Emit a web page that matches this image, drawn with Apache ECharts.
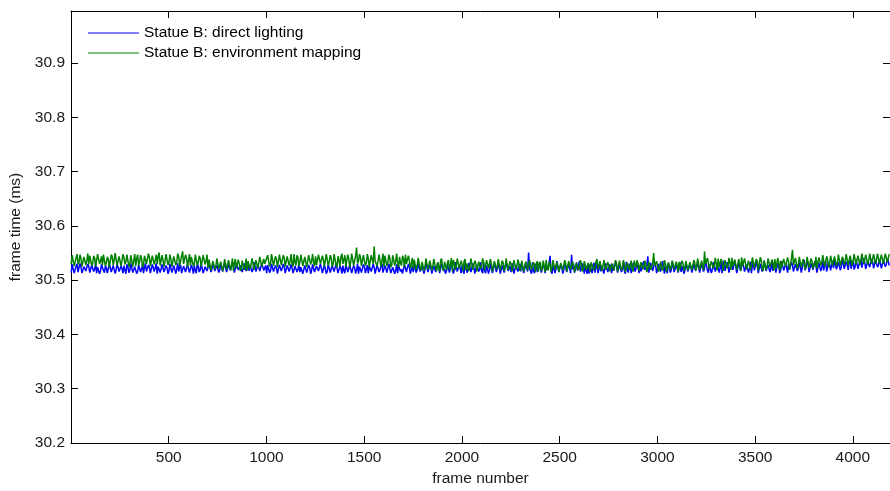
<!DOCTYPE html>
<html>
<head>
<meta charset="utf-8">
<script src="https://cdn.jsdelivr.net/npm/echarts@6/dist/echarts.min.js"></script>
<style>
  html, body { margin: 0; padding: 0; background: #ffffff; }
  #chart { width: 890px; height: 491px; }
</style>
</head>
<body>
<div id="chart"></div>
<script>
// Frame time per frame (ms), one sample every FRAME_STEP frames starting at frame 1
const FRAME_STEP = 5;
const FIRST_FRAME = 1;

const seriesNames = ['Statue B: direct lighting', 'Statue B: environment mapping'];

const xTicks = [500, 1000, 1500, 2000, 2500, 3000, 3500, 4000];
const yTicks = [30.2, 30.3, 30.4, 30.5, 30.6, 30.7, 30.8, 30.9];

const directLighting = [
  30.514,30.529,30.527,30.513,30.519,30.526,30.530,30.515,30.516,30.531,30.524,30.513,30.512,30.525,30.528,30.517,30.518,30.530,30.525,30.514,
  30.515,30.528,30.529,30.516,30.520,30.531,30.513,30.524,30.526,30.512,30.517,30.529,30.531,30.518,30.514,30.527,30.522,30.513,30.516,30.530,
  30.528,30.515,30.513,30.527,30.524,30.512,30.519,30.530,30.530,30.516,30.515,30.526,30.521,30.513,30.527,30.518,30.512,30.529,30.525,30.514,
  30.518,30.531,30.529,30.514,30.514,30.525,30.523,30.512,30.516,30.528,30.527,30.515,30.520,30.530,30.513,30.524,30.531,30.516,30.517,30.528,
  30.524,30.513,30.515,30.529,30.528,30.516,30.519,30.531,30.512,30.525,30.526,30.514,30.521,30.529,30.530,30.515,30.514,30.527,30.523,30.512,
  30.517,30.530,30.529,30.514,30.513,30.527,30.525,30.512,30.520,30.531,30.516,30.524,30.528,30.513,30.512,30.526,30.524,30.515,30.518,30.529,
  30.531,30.514,30.515,30.528,30.522,30.512,30.527,30.518,30.513,30.530,30.526,30.515,30.519,30.531,30.529,30.513,30.516,30.525,30.523,30.517,
  30.516,30.531,30.529,30.515,30.520,30.532,30.533,30.517,30.515,30.528,30.526,30.514,30.519,30.530,30.531,30.516,30.517,30.533,30.524,30.515,
  30.514,30.529,30.530,30.518,30.521,30.533,30.527,30.514,30.516,30.530,30.532,30.519,30.518,30.527,30.525,30.515,30.515,30.531,30.529,30.517,
  30.522,30.532,30.517,30.528,30.531,30.515,30.519,30.533,30.526,30.516,30.514,30.529,30.528,30.517,30.520,30.531,30.533,30.518,30.517,30.527,
  30.513,30.528,30.526,30.514,30.518,30.530,30.529,30.516,30.515,30.527,30.523,30.512,30.512,30.528,30.527,30.517,30.519,30.530,30.524,30.513,
  30.514,30.527,30.530,30.516,30.517,30.529,30.522,30.513,30.513,30.526,30.528,30.515,30.520,30.530,30.515,30.524,30.526,30.512,30.512,30.527,
  30.529,30.514,30.516,30.528,30.523,30.512,30.518,30.529,30.527,30.515,30.513,30.526,30.525,30.517,30.519,30.530,30.530,30.513,30.514,30.528,
  30.521,30.512,30.516,30.530,30.528,30.514,30.512,30.527,30.524,30.516,30.518,30.530,30.529,30.513,30.515,30.526,30.522,30.512,30.527,30.517,
  30.513,30.529,30.526,30.515,30.517,30.528,30.530,30.513,30.514,30.527,30.523,30.512,30.519,30.530,30.512,30.525,30.528,30.514,30.516,30.529,
  30.525,30.513,30.520,30.528,30.513,30.526,30.529,30.516,30.517,30.530,30.524,30.512,30.514,30.528,30.527,30.515,30.519,30.526,30.530,30.514,
  30.512,30.527,30.522,30.514,30.516,30.530,30.528,30.513,30.515,30.524,30.526,30.512,30.518,30.529,30.513,30.527,30.529,30.516,30.520,30.512,
  30.514,30.529,30.527,30.515,30.517,30.530,30.524,30.512,30.513,30.526,
  30.515,30.530,30.528,30.514,30.519,30.531,30.532,30.516,30.513,30.527,30.525,30.512,30.520,30.533,30.530,30.515,30.516,30.528,30.523,30.512,
  30.512,30.526,30.529,30.515,30.518,30.532,30.526,30.513,30.514,30.530,30.533,30.517,30.521,30.512,30.517,30.529,30.527,30.514,30.513,30.531,
  30.524,30.512,30.519,30.533,30.531,30.516,30.515,30.528,30.522,30.513,30.528,30.517,30.512,30.530,30.526,30.514,30.518,30.532,30.530,30.515,
  30.516,30.531,30.523,30.512,30.514,30.528,30.529,30.516,30.520,30.533,30.517,30.513,30.532,30.518,30.513,30.527,30.525,30.512,30.519,30.530,
  30.527,30.513,30.514,30.532,30.530,30.515,30.518,30.529,30.523,30.512,30.512,30.527,30.528,30.514,30.516,30.533,30.531,30.517,30.520,30.526,
  30.515,30.531,30.526,30.512,30.513,30.528,30.529,30.516,30.518,30.530,
  30.516,30.533,30.530,30.513,30.514,30.529,30.527,30.516,30.551,30.522,30.520,30.512,30.533,30.517,30.513,30.530,30.526,30.515,30.518,30.532,
  30.531,30.514,30.515,30.528,30.524,30.513,30.529,30.519,30.517,30.531,30.545,30.516,30.512,30.527,30.528,30.513,30.520,30.535,30.534,30.515,
  30.514,30.529,30.525,30.512,30.519,30.533,30.532,30.515,30.516,30.530,30.527,30.513,30.547,30.520,30.530,30.514,30.521,30.533,30.518,30.526,
  30.535,30.516,30.515,30.531,30.523,30.512,30.529,30.518,30.512,30.527,30.512,30.530,30.519,30.513,30.526,30.532,30.514,30.525,30.531,30.513,
  30.520,30.534,30.516,30.527,30.528,30.512,30.513,30.531,30.533,30.515,30.518,30.529,30.524,30.513,30.530,30.517,30.515,30.534,30.527,30.514,
  30.512,30.528,30.529,30.515,30.521,30.533,30.517,30.512,30.534,30.520,30.514,30.530,30.526,30.513,30.519,30.532,30.531,30.516,30.516,30.529,
  30.523,30.513,30.528,30.516,30.513,30.531,30.535,30.519,30.518,30.527,30.544,30.514,30.515,30.532,30.530,30.517,30.520,30.533,30.527,30.513,
  30.514,30.530,30.532,30.516,30.517,30.535,30.524,30.512,30.529,30.518,30.513,30.531,30.526,30.514,30.519,30.534,30.533,30.515,30.516,30.528,
  30.522,30.514,30.521,30.533,30.515,30.526,30.528,30.512,30.518,30.532,30.531,30.516,30.513,30.529,30.525,30.514,30.520,30.531,30.534,30.517,
  30.517,30.534,30.531,30.514,30.515,30.530,30.528,30.516,30.521,30.537,30.535,30.518,30.514,30.529,30.526,30.513,30.519,30.533,30.533,30.516,
  30.516,30.531,30.529,30.514,30.522,30.535,30.513,30.527,30.536,30.517,30.518,30.533,30.527,30.514,30.515,30.530,30.532,30.519,30.520,30.536,
  30.525,30.513,30.514,30.532,30.530,30.517,30.519,30.535,30.537,30.516,30.516,30.529,30.528,30.514,30.521,30.534,30.513,30.527,30.534,30.518,
  30.518,30.533,30.526,30.513,30.515,30.530,30.531,30.516,30.520,30.536,30.535,30.517,30.514,30.528,30.529,30.515,30.522,30.534,30.517,30.529,
  30.533,30.514,30.516,30.531,30.527,30.513,30.519,30.535,30.536,30.518,30.515,30.530,30.524,30.514,30.530,30.519,30.518,30.533,30.528,30.516,
  30.514,30.530,30.532,30.517,30.521,30.535,30.526,30.514,30.517,30.532,30.537,30.518,30.519,30.534,30.529,30.515,30.515,30.531,30.534,30.519,
  30.520,30.535,30.527,30.514,30.516,30.532,30.531,30.517,30.523,30.536,30.518,30.530,30.535,30.516,30.517,30.533,30.529,30.518,30.521,30.536,
  30.522,30.537,30.535,30.520,30.519,30.533,30.531,30.518,30.525,30.539,30.538,30.521,30.520,30.534,30.529,30.519,30.533,30.537,30.521,30.530,
  30.536,30.520,30.524,30.538,30.530,30.521,30.519,30.535,30.539,30.523,30.526,30.540,30.532,30.521,30.522,30.536,30.537,30.524,30.527,30.539,
  30.534,30.522,30.521,30.538,30.540,30.524,30.528,30.539,30.536,30.522,30.523,30.537,30.538,30.525,30.529,30.540,30.535,30.527
];

const environmentMapping = [
  30.530,30.546,30.544,30.526,30.527,30.541,30.548,30.529,30.533,30.547,30.540,30.525,30.525,30.543,30.546,30.528,30.536,30.549,30.529,30.545,
  30.547,30.527,30.531,30.545,30.541,30.525,30.526,30.548,30.545,30.530,30.535,30.544,30.528,30.547,30.549,30.526,30.532,30.543,30.538,30.524,
  30.525,30.547,30.543,30.528,30.537,30.550,30.553,30.527,30.530,30.544,30.546,30.526,30.527,30.548,30.541,30.529,30.534,30.547,30.548,30.525,
  30.529,30.546,30.544,30.525,30.536,30.548,30.526,30.540,30.547,30.527,30.533,30.546,30.540,30.524,30.528,30.545,30.545,30.530,30.531,30.549,
  30.542,30.526,30.525,30.545,30.548,30.529,30.537,30.547,30.530,30.544,30.551,30.527,30.527,30.546,30.543,30.525,30.535,30.548,30.546,30.528,
  30.532,30.547,30.539,30.525,30.526,30.544,30.547,30.528,30.534,30.549,30.544,30.526,30.528,30.545,30.553,30.530,30.531,30.547,30.541,30.524,
  30.536,30.548,30.527,30.543,30.545,30.526,30.530,30.547,30.548,30.527,30.533,30.545,30.540,30.525,30.526,30.546,30.544,30.529,30.535,30.547,
  30.522,30.538,30.536,30.518,30.519,30.535,30.533,30.520,30.526,30.540,30.540,30.521,30.518,30.534,30.531,30.517,30.524,30.539,30.537,30.520,
  30.520,30.537,30.534,30.518,30.527,30.540,30.517,30.531,30.539,30.522,30.523,30.538,30.530,30.517,30.521,30.536,30.535,30.519,30.525,30.540,
  30.518,30.535,30.538,30.521,30.528,30.540,30.532,30.519,30.520,30.537,30.536,30.522,30.524,30.543,30.541,30.525,30.522,30.539,30.530,30.527,
  30.528,30.546,30.543,30.525,30.531,30.548,30.547,30.527,30.526,30.544,30.539,30.524,30.534,30.547,30.545,30.528,30.529,30.546,30.541,30.525,
  30.524,30.544,30.546,30.527,30.535,30.548,30.530,30.525,30.548,30.533,30.527,30.546,30.542,30.526,30.533,30.547,30.545,30.526,30.528,30.543,
  30.540,30.524,30.525,30.546,30.547,30.529,30.536,30.548,30.531,30.526,30.544,30.528,30.527,30.547,30.548,30.530,30.532,30.545,30.538,30.525,
  30.526,30.548,30.545,30.527,30.534,30.546,30.541,30.525,30.529,30.548,30.547,30.528,30.524,30.544,30.537,30.526,30.543,30.549,30.530,30.527,
  30.546,30.525,30.528,30.547,30.539,30.524,30.533,30.549,30.548,30.527,30.526,30.545,30.560,30.531,30.535,30.548,30.542,30.526,30.529,30.546,
  30.545,30.527,30.531,30.548,30.540,30.524,30.527,30.546,30.547,30.530,30.562,30.535,30.534,30.526,30.529,30.547,30.544,30.525,30.536,30.549,
  30.525,30.545,30.548,30.526,30.532,30.547,30.541,30.524,30.528,30.546,30.546,30.527,30.535,30.549,30.530,30.524,30.543,30.531,30.527,30.545,
  30.539,30.524,30.547,30.530,30.531,30.545,30.536,30.522,30.529,30.541,
  30.521,30.538,30.535,30.519,30.527,30.541,30.539,30.522,30.518,30.534,30.531,30.517,30.524,30.540,30.538,30.520,30.520,30.536,30.533,30.518,
  30.526,30.539,30.540,30.521,30.517,30.533,30.530,30.516,30.536,30.540,30.523,30.518,30.534,30.537,30.519,30.532,30.537,30.520,30.528,30.541,
  30.516,30.537,30.532,30.519,30.525,30.540,30.539,30.522,30.521,30.536,30.529,30.517,30.535,30.539,30.518,30.531,30.533,30.517,30.526,30.540,
  30.540,30.519,30.522,30.536,30.531,30.516,30.517,30.534,30.536,30.521,30.527,30.540,30.533,30.518,30.520,30.537,30.538,30.522,30.524,30.539,
  30.529,30.516,30.516,30.535,30.534,30.520,30.526,30.539,30.541,30.518,30.519,30.536,30.532,30.517,30.523,30.540,30.537,30.519,30.521,30.535,
  30.530,30.516,30.518,30.537,30.535,30.520,30.525,30.538,30.532,30.517,
  30.522,30.536,30.533,30.516,30.517,30.534,30.530,30.518,30.525,30.537,30.536,30.519,30.519,30.533,30.528,30.515,30.531,30.535,30.516,30.530,
  30.534,30.517,30.521,30.536,30.527,30.515,30.537,30.522,30.518,30.534,30.529,30.516,30.524,30.537,30.535,30.519,30.520,30.533,30.531,30.516,
  30.515,30.532,30.533,30.518,30.526,30.537,30.530,30.516,30.519,30.535,30.536,30.520,30.523,30.534,30.528,30.515,30.517,30.532,30.534,30.518,
  30.525,30.537,30.531,30.516,30.520,30.535,30.537,30.519,30.516,30.532,30.529,30.515,30.533,30.536,30.522,30.518,30.527,30.534,30.539,30.520,
  30.518,30.535,30.532,30.517,30.524,30.537,30.536,30.519,30.521,30.533,30.528,30.516,30.515,30.531,30.534,30.518,30.526,30.537,30.530,30.516,
  30.519,30.536,30.535,30.518,30.523,30.537,30.529,30.515,30.517,30.532,30.533,30.519,30.527,30.536,30.520,30.516,30.536,30.530,30.524,30.537,
  30.531,30.517,30.516,30.533,30.534,30.520,30.525,30.536,30.529,30.515,30.521,30.534,30.537,30.519,30.518,30.531,30.550,30.526,30.527,30.535,
  30.532,30.516,30.520,30.534,30.535,30.518,30.524,30.537,30.529,30.515,30.517,30.533,30.533,30.519,30.526,30.536,30.536,30.520,30.521,30.534,
  30.528,30.515,30.534,30.521,30.519,30.536,30.531,30.517,30.524,30.535,30.537,30.518,30.516,30.533,30.530,30.519,30.527,30.537,30.533,30.518,
  30.524,30.540,30.537,30.519,30.520,30.536,30.533,30.518,30.553,30.530,30.528,30.541,30.539,30.521,30.519,30.535,30.535,30.522,30.526,30.541,
  30.531,30.518,30.540,30.524,30.522,30.539,30.534,30.517,30.518,30.537,30.538,30.522,30.527,30.541,30.532,30.519,30.541,30.525,30.523,30.538,
  30.536,30.519,30.520,30.539,30.530,30.517,30.542,30.526,30.525,30.540,30.537,30.520,30.519,30.536,30.533,30.518,30.528,30.542,30.540,30.523,
  30.521,30.539,30.535,30.518,30.529,30.542,30.538,30.522,30.517,30.536,30.534,30.519,30.526,30.540,30.541,30.524,30.523,30.538,30.532,30.518,
  30.539,30.521,30.524,30.541,30.531,30.518,30.536,30.523,30.520,30.539,30.540,30.525,30.527,30.542,30.534,30.519,30.529,30.540,30.556,30.528,
  30.525,30.541,30.538,30.521,30.530,30.543,30.542,30.524,30.522,30.539,30.536,30.520,30.528,30.543,30.541,30.523,30.526,30.540,30.535,30.521,
  30.531,30.526,30.543,30.522,30.524,30.542,30.539,30.527,30.533,30.546,30.545,30.525,30.528,30.544,30.537,30.524,30.530,30.545,30.544,30.527,
  30.528,30.544,30.541,30.526,30.532,30.547,30.545,30.527,30.527,30.543,30.538,30.529,30.535,30.548,30.546,30.528,30.530,30.545,30.543,30.527,
  30.534,30.548,30.547,30.529,30.529,30.545,30.542,30.528,30.537,30.549,30.548,30.530,30.531,30.547,30.544,30.529,30.536,30.549,30.546,30.530,
  30.533,30.548,30.545,30.530,30.538,30.549,30.549,30.531,30.532,30.547,30.544,30.530,30.540,30.549,30.547,30.533,30.536,30.548
];

// pair each sample with its frame number
function toPoints(values) {
  return values.map((v, i) => [FIRST_FRAME + i * FRAME_STEP, v]);
}

const X_MIN = 0, X_MAX = 4190, X_STEP = xTicks[1] - xTicks[0];
const Y_MIN = yTicks[0], Y_MAX = 30.996, Y_STEP = 0.1;

const FONT = '"Liberation Sans", Arial, Helvetica, sans-serif';
const TEXT_COLOR = '#1a1a1a';

function frameAxis(pos, showLabels) {
  return {
    type: 'value',
    position: pos,
    min: X_MIN, max: X_MAX, interval: X_STEP,
    name: showLabels ? 'frame number' : '',
    nameLocation: 'middle',
    nameGap: 28,
    nameTextStyle: { fontFamily: FONT, fontSize: 15.5, color: TEXT_COLOR },
    axisLine: { show: true, onZero: false, lineStyle: { color: '#000', width: 1 } },
    axisTick: { show: true, inside: true, length: 7, lineStyle: { color: '#000' } },
    axisLabel: {
      show: showLabels, showMinLabel: false, showMaxLabel: false, margin: 7,
      fontFamily: FONT, fontSize: 15.5, color: TEXT_COLOR,
      formatter: v => String(v)
    },
    splitLine: { show: false }
  };
}

function timeAxis(pos, showLabels) {
  return {
    type: 'value',
    position: pos,
    min: Y_MIN, max: Y_MAX, interval: Y_STEP,
    name: showLabels ? 'frame time (ms)' : '',
    nameLocation: 'middle',
    nameGap: 44,
    nameRotate: 90,
    nameTextStyle: { fontFamily: FONT, fontSize: 15.5, color: TEXT_COLOR },
    axisLine: { show: true, onZero: false, lineStyle: { color: '#000', width: 1 } },
    axisTick: { show: true, inside: true, length: 7, lineStyle: { color: '#000' } },
    axisLabel: {
      show: showLabels, showMaxLabel: false, margin: 6,
      fontFamily: FONT, fontSize: 15.5, color: TEXT_COLOR,
      formatter: v => v.toFixed(1)
    },
    splitLine: { show: false }
  };
}

const chart = echarts.init(document.getElementById('chart'), null, { renderer: 'canvas' });

chart.setOption({
  animation: false,
  backgroundColor: '#ffffff',
  grid: { left: 71, right: 0, top: 11, bottom: 48, containLabel: false, outerBoundsMode: 'none' },
  legend: {
    orient: 'vertical',
    left: 88, top: 25,
    padding: 0,
    icon: 'rect',
    itemWidth: 51, itemHeight: 1,
    itemGap: 4,
    textStyle: { fontFamily: FONT, fontSize: 15.5, color: '#000' },
    data: seriesNames
  },
  xAxis: [frameAxis('bottom', true), frameAxis('top', false)],
  yAxis: [timeAxis('left', true), timeAxis('right', false)],
  series: [
    {
      name: seriesNames[0], type: 'line', showSymbol: false, symbol: 'none',
      sampling: null, color: '#0000ff',
      lineStyle: { color: '#0000ff', width: 1.5 },
      data: toPoints(directLighting)
    },
    {
      name: seriesNames[1], type: 'line', showSymbol: false, symbol: 'none',
      sampling: null, color: '#008000',
      lineStyle: { color: '#008000', width: 1.5 },
      data: toPoints(environmentMapping)
    }
  ]
});
</script>
</body>
</html>
